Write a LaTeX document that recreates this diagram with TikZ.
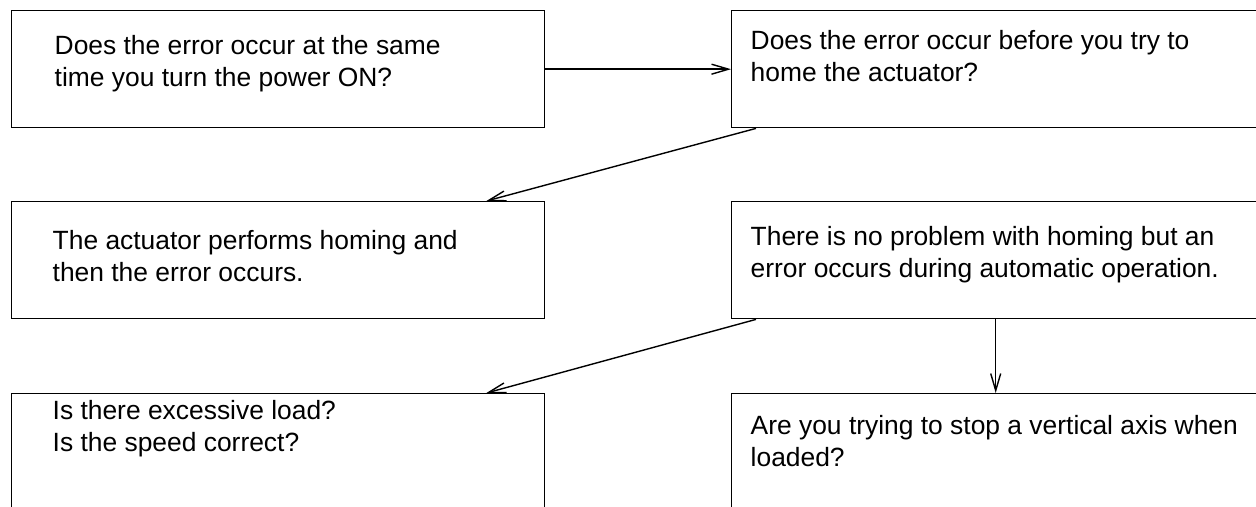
\documentclass[tikz,border=0pt]{standalone}
\usepackage{fontspec}
\setmainfont{Liberation Sans}
\usetikzlibrary{arrows.meta, positioning, calc}
\newcommand{\qbox}[5]{%
  \node[qframe, minimum width=#3] (#1) at #2 {};
  \node[qtext] (#1t) at ($(#1.north west)+#4$) {#5};
}

\begin{document}
\begin{tikzpicture}[x=0.5pt, y=-0.5pt, >={Straight Barb[length=8.5pt, width=5pt]},
      line width=0.7pt,
      qframe/.style={draw, rectangle, anchor=north west, inner sep=0pt,
        minimum height=58.5pt},
      qtext/.style={anchor=base west, inner sep=0pt, align=left,
        font=\fontsize{13.2}{16}\selectfont}]
    \useasboundingbox (0,0) rectangle (1256,507);
    % left column
    \qbox{q1}{(11,10)}{266.5pt}{(43,77)}{Does the error occur at the same\\time you turn the power ON?}
    \qbox{q3}{(11,201)}{266.5pt}{(41,81)}{The actuator performs homing and\\then the error occurs.}
    \qbox{q5}{(11,393)}{266.5pt}{(41,58)}{Is there excessive load?\\Is the speed correct?}
    % right column
    \qbox{q2}{(731,10)}{264pt}{(19,72)}{Does the error occur before you try to\\home the actuator?}
    \qbox{q4}{(731,201)}{264pt}{(19,77)}{There is no problem with homing but an\\error occurs during automatic operation.}
    \qbox{q6}{(731,393)}{264pt}{(19,73)}{Are you trying to stop a vertical axis when\\loaded?}
    % connectors
    \draw[->] (q1.east) -- (q2.west);
    \draw[->] ($(q2.south west)+(25,0)$) -- ($(q3.north east)+(-59,0)$);
    \draw[->] ($(q4.south west)+(25,0)$) -- ($(q5.north east)+(-59,0)$);
    \draw[->] (q4.south) -- (q6.north);
\end{tikzpicture}
\end{document}
